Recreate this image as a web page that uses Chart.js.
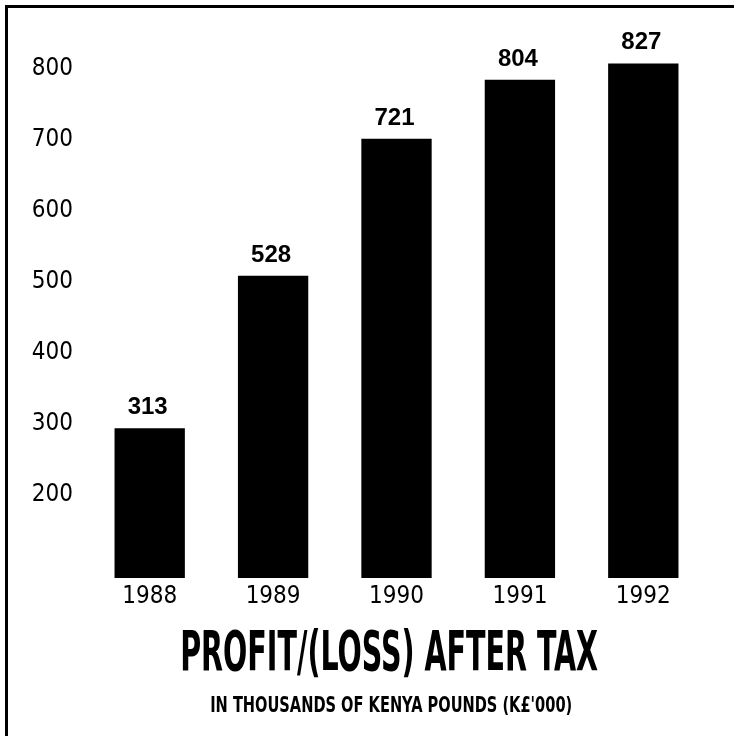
<!DOCTYPE html>
<html>
<head>
<meta charset="utf-8">
<title>Profit/(Loss) after tax</title>
<script src="https://cdn.jsdelivr.net/npm/chart.js@4.4.1/dist/chart.umd.min.js"></script>
<style>
    html, body { margin: 0; padding: 0; background: #fff; }
    #page { position: relative; width: 734px; height: 736px; overflow: hidden; }
    #frame {
        position: absolute; left: 5px; top: 5px; right: -10px; bottom: -10px;
        border-left: 3px solid #000; border-top: 3px solid #000;
    }
    #profitChart { position: absolute; left: 0; top: 0; }
    .caption {
        position: absolute; width: 734px; text-align: center; white-space: nowrap;
        font-family: 'DejaVu Sans Condensed', 'Liberation Sans Narrow', sans-serif;
        font-weight: bold; color: #000;
    }
    .caption span { display: inline-block; transform-origin: center; }
    #title { left: 22px; top: 624px; font-size: 55px; line-height: 55px; }
    #subtitle { left: 24px; top: 695px; font-size: 21px; line-height: 21px; }
</style>
</head>
<body>
<div id="page">
    <div id="frame"></div>
    <canvas id="profitChart" width="734" height="620"></canvas>
    <div class="caption" id="title"><span>PROFIT/(LOSS) AFTER TAX</span></div>
    <div class="caption" id="subtitle"><span>IN THOUSANDS OF KENYA POUNDS (K£'000)</span></div>
</div>
<script>
// Profit after tax, K£'000
const years = ['1988', '1989', '1990', '1991', '1992'];
const profit = [313, 528, 721, 804, 827];
const tickValues = [200, 300, 400, 500, 600, 700, 800];

const narrowFont = "'DejaVu Sans Condensed', 'Liberation Sans Narrow', sans-serif";

// value labels above each bar
const barValueLabels = {
    id: 'barValueLabels',
    afterDatasetsDraw(chart) {
        const ctx = chart.ctx;
        const meta = chart.getDatasetMeta(0);
        ctx.save();
        ctx.fillStyle = '#000';
        ctx.font = "bold 24px 'Liberation Sans', Arial, sans-serif";
        ctx.textAlign = 'center';
        ctx.textBaseline = 'alphabetic';
        meta.data.forEach((bar, i) => {
            ctx.fillText(String(profit[i]), bar.x - 2, bar.y - 14);
        });
        ctx.restore();
    }
};

new Chart(document.getElementById('profitChart').getContext('2d'), {
    type: 'bar',
    data: {
        labels: years,
        datasets: [{
            data: profit,
            backgroundColor: '#000',
            borderWidth: 0,
            categoryPercentage: 1,
            barPercentage: 0.57
        }]
    },
    options: {
        responsive: false,
        animation: false,
        layout: { padding: { left: 30, right: 29, top: 40, bottom: 7 } },
        plugins: {
            legend: { display: false },
            tooltip: { enabled: false }
        },
        scales: {
            x: {
                grid: { display: false, drawTicks: false },
                border: { display: false },
                afterFit: function(scale) { scale.height = 35; },
                ticks: {
                    color: '#000',
                    padding: 4,
                    font: { family: narrowFont, size: 24 }
                }
            },
            y: {
                min: 102,
                max: 860,
                grid: { display: false, drawTicks: false },
                border: { display: false },
                afterFit: function(scale) { scale.width = 58; },
                afterBuildTicks: function(scale) {
                    scale.ticks = tickValues.map(v => ({ value: v }));
                },
                ticks: {
                    color: '#000',
                    padding: 15,
                    labelOffset: -14,
                    font: { family: narrowFont, size: 24 }
                }
            }
        }
    },
    plugins: [barValueLabels]
});

// squeeze the captions to the condensed width of the original
function fitCaption(id, targetWidth) {
    const span = document.querySelector('#' + id + ' span');
    const w = span.getBoundingClientRect().width;
    span.style.transform = 'scaleX(' + (targetWidth / w).toFixed(3) + ')';
}
fitCaption('title', 418);
fitCaption('subtitle', 362);
</script>
</body>
</html>
